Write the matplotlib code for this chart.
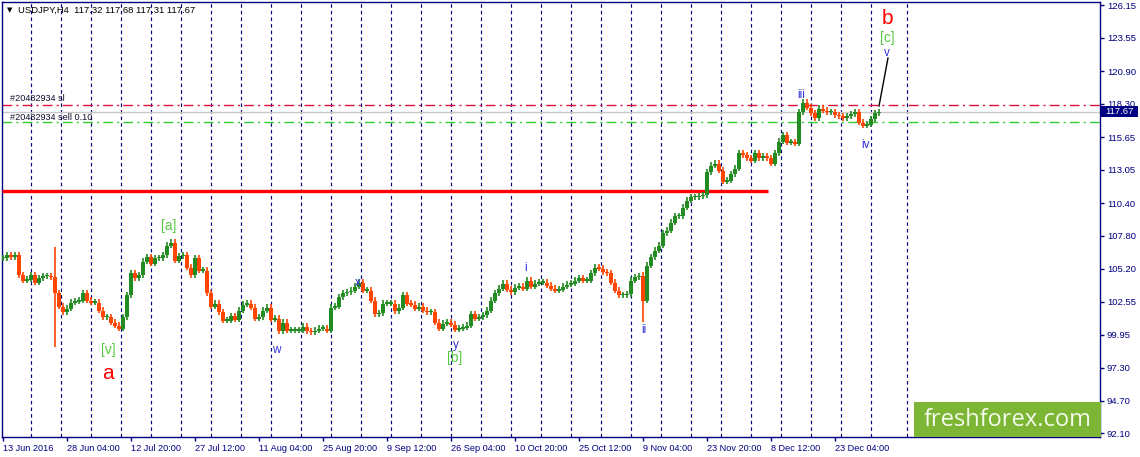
import numpy as np
import matplotlib
matplotlib.use("Agg")
import matplotlib.pyplot as plt
from matplotlib.patches import Rectangle

W, H = 1140, 457

# ---- data (prices, H4 bars) ----
bar_start = 3
bar_step = 4
closes = [
    106.04, 106.28, 106.12, 106.28, 104.69, 104.29, 104.37, 104.69, 104.13, 104.45,
    104.61, 104.61, 104.53, 103.26, 102.22, 101.75, 102.06, 102.54, 102.62, 102.70,
    103.26, 102.70, 102.54, 102.54, 101.90, 101.35, 101.35, 100.95, 100.71, 100.47,
    101.35, 103.10, 104.85, 104.45, 104.69, 105.80, 106.12, 105.64, 106.04, 106.04,
    106.28, 107.07, 107.31, 105.88, 106.20, 106.28, 105.32, 104.69, 106.04, 105.08,
    105.08, 103.26, 102.22, 102.46, 101.75, 101.11, 101.11, 101.43, 101.19, 101.90,
    102.38, 102.46, 102.14, 101.27, 101.35, 101.90, 102.14, 101.19, 101.27, 100.24,
    100.95, 100.31, 100.31, 100.31, 100.31, 100.63, 100.24, 100.16, 100.31, 100.47,
    100.47, 100.31, 102.14, 102.22, 102.94, 103.26, 103.34, 103.49, 103.81, 104.13,
    103.49, 103.49, 102.70, 101.59, 101.67, 102.46, 102.46, 102.46, 101.83, 102.14,
    103.10, 102.46, 102.38, 102.06, 102.22, 101.90, 101.75, 101.75, 100.95, 100.47,
    100.87, 100.95, 100.79, 100.39, 100.47, 100.55, 100.71, 101.59, 101.27, 101.35,
    101.51, 101.90, 102.70, 103.26, 103.65, 104.05, 103.57, 103.34, 103.73, 103.81,
    103.65, 104.29, 103.81, 104.05, 104.13, 104.13, 103.89, 103.65, 103.49, 103.57,
    103.81, 103.97, 104.05, 104.29, 104.45, 104.29, 104.29, 104.85, 105.32, 105.24,
    104.93, 104.85, 104.13, 103.49, 103.10, 103.10, 103.18, 104.29, 104.53, 104.61,
    102.70, 105.48, 106.12, 106.67, 107.07, 108.03, 108.26, 108.90, 109.38, 109.38,
    110.09, 110.65, 110.89, 110.89, 110.97, 111.05, 112.88, 113.43, 113.59, 113.03,
    112.16, 112.24, 112.72, 113.19, 114.39, 114.23, 113.99, 113.83, 114.39, 113.99,
    114.15, 113.99, 113.59, 114.39, 115.34, 115.82, 115.26, 115.26, 115.18, 117.65,
    118.44, 118.04, 117.57, 117.17, 117.96, 117.80, 117.65, 117.65, 117.41, 117.33,
    117.17, 117.33, 117.49, 117.65, 116.85, 116.61, 116.69, 117.09, 117.57, 117.67,
]
spike_high = {13: 106.91, 160: 104.90}
spike_low = {13: 98.96, 160: 100.95}

y_ticks = [126.15, 123.55, 120.90, 118.30, 115.65, 113.05, 110.40,
           107.80, 105.20, 102.55, 99.95, 97.30, 94.70, 92.10]
x_tick_bars = [3, 67, 131, 195, 259, 323, 387, 451, 515, 579, 643, 707, 771, 835]
x_tick_labels = ["13 Jun 2016", "28 Jun 04:00", "12 Jul 20:00", "27 Jul 12:00",
                 "11 Aug 04:00", "25 Aug 20:00", "9 Sep 12:00", "26 Sep 04:00",
                 "10 Oct 20:00", "25 Oct 12:00", "9 Nov 04:00", "23 Nov 20:00",
                 "8 Dec 12:00", "23 Dec 04:00"]
week_separators = [31, 61, 91, 121, 151, 181, 211, 241, 271, 301, 331, 361, 391,
                   421, 451, 481, 511, 541, 571, 601, 631, 661, 691, 721, 751, 781,
                   811, 841, 871, 907]

sl_price = 118.18
bid_price = 117.67
entry_price = 116.82
resistance_price = 111.36
resistance_end_bar = 768
projection_bars = [879, 888]
projection_prices = [118.12, 121.94]

header_text = "USDJPY,H4  117.32 117.68 117.31 117.67"
sl_text = "#20482934 sl"
entry_text = "#20482934 sell 0.10"

big_labels = [("b", 887, 124.64), ("a", 108, 96.42)]
bracket_labels = [("[c]", 887, 123.53), ("[a]", 169, 108.58),
                  ("[v]", 108, 98.73), ("[b]", 455, 98.09)]
minor_labels = [("v", 887, 122.34), ("iii", 801, 118.99), ("iv", 866, 115.02),
                ("w", 276, 98.73), ("x", 358, 104.05), ("y", 456, 99.12),
                ("i", 526, 105.24), ("ii", 644, 100.31)]

# ---- figure ----
NAVY = "#000080"
UP = "#228B22"
DOWN = "#FF4500"
FONT = "Liberation Sans"

fig = plt.figure(figsize=(W / 100, H / 100), dpi=100)
fig.patch.set_facecolor("white")
ax = fig.add_axes([2 / W, 20 / H, 1098 / W, 435 / H])
ax.set_xlim(2, 1100)
ax.set_ylim(91.81, 126.39)
ax.set_facecolor("white")
for s in ax.spines.values():
    s.set_color(NAVY)
    s.set_linewidth(1.0)

# week separators
for xs in week_separators:
    ax.axvline(xs, color=NAVY, lw=0.85, ls=(0, (3, 2.6)), zorder=1)

# horizontal levels
ax.axhline(sl_price, color="#E0103C", lw=1.0, ls=(0, (7, 3, 1.5, 3)), zorder=2)
ax.axhline(bid_price, color="#C8C8C8", lw=1.0, zorder=2)
ax.axhline(entry_price, color="#32CD32", lw=1.0, ls=(0, (7, 3, 1.5, 3)), zorder=2)
ax.plot([2, resistance_end_bar], [resistance_price, resistance_price],
        color="#FF0000", lw=2.4, solid_capstyle="butt", zorder=3)

# candles
c = np.array(closes)
o = np.r_[c[0], c[:-1]]
xb = bar_start + bar_step * np.arange(len(c))
hi = np.maximum(o, c) + 0.25
lo = np.minimum(o, c) - 0.25
for k, v in spike_high.items():
    hi[k] = v
for k, v in spike_low.items():
    lo[k] = v
cols = np.where(c >= o, UP, DOWN)
ax.vlines(xb, lo, hi, colors=cols, lw=1.2, zorder=4)
body_h = np.maximum(np.abs(c - o), 0.12)
ax.bar(xb, body_h, bottom=np.minimum(o, c) - 0.04, width=3.2, color=cols,
       linewidth=0, zorder=5)

# projection line
ax.plot(projection_bars, projection_prices, color="black", lw=1.0, zorder=6)

# ticks
ax.yaxis.tick_right()
ax.set_yticks(y_ticks)
ax.set_yticklabels([f"{v:.2f}" for v in y_ticks], fontsize=6.8, color=NAVY,
                   family=FONT)
ax.tick_params(axis="y", direction="out", length=3, width=1, color=NAVY, pad=2)
ax.set_xticks(x_tick_bars)
ax.set_xticklabels(x_tick_labels, fontsize=6.6, color=NAVY, family=FONT,
                   ha="left")
ax.tick_params(axis="x", direction="out", length=3, width=1, color=NAVY, pad=2)

# header and order texts
ax.text(7, 125.75, "\u25BC", fontsize=5, color="black", va="center",
        family="DejaVu Sans")
ax.text(18, 125.75, header_text, fontsize=6.8, color="black", va="center",
        family=FONT)
ax.text(10, 118.68, sl_text, fontsize=6.6, color="#101030", va="center",
        family=FONT)
ax.text(10, 117.24, entry_text, fontsize=6.6, color="#101030", va="center",
        family=FONT)

# wave labels
for t, xv, yv in big_labels:
    ax.text(xv, yv, t, fontsize=15, color="#FF0000", ha="center",
            va="baseline", family=FONT, zorder=7)
for t, xv, yv in bracket_labels:
    ax.text(xv, yv, t, fontsize=10, color="#55C840", ha="center",
            va="center", family=FONT, zorder=7)
for t, xv, yv in minor_labels:
    ax.text(xv, yv, t, fontsize=8.5, color="#3333DD", ha="center",
            va="center", family=FONT, zorder=7)

# current price tag
fig.add_artist(Rectangle((1101 / W, 1 - 117 / H), 37 / W, 11 / H,
                         transform=fig.transFigure, facecolor=NAVY,
                         edgecolor="none", zorder=10))
fig.text(1119 / W, 1 - 111.6 / H, f"{bid_price:.2f}", fontsize=6.8,
         color="white", ha="center", va="center", family=FONT, zorder=11)

# watermark box
fig.add_artist(Rectangle((914 / W, 1 - 437 / H), 187 / W, 35 / H,
                         transform=fig.transFigure, facecolor="#7DB534",
                         edgecolor="none", zorder=10))
fig.text(1008 / W, 1 - 420 / H, "freshforex.com", fontsize=17,
         color="#F4FAEC", ha="center", va="center", family="Open Sans",
         zorder=11)

fig.savefig("out.png", dpi=100, facecolor="white")
